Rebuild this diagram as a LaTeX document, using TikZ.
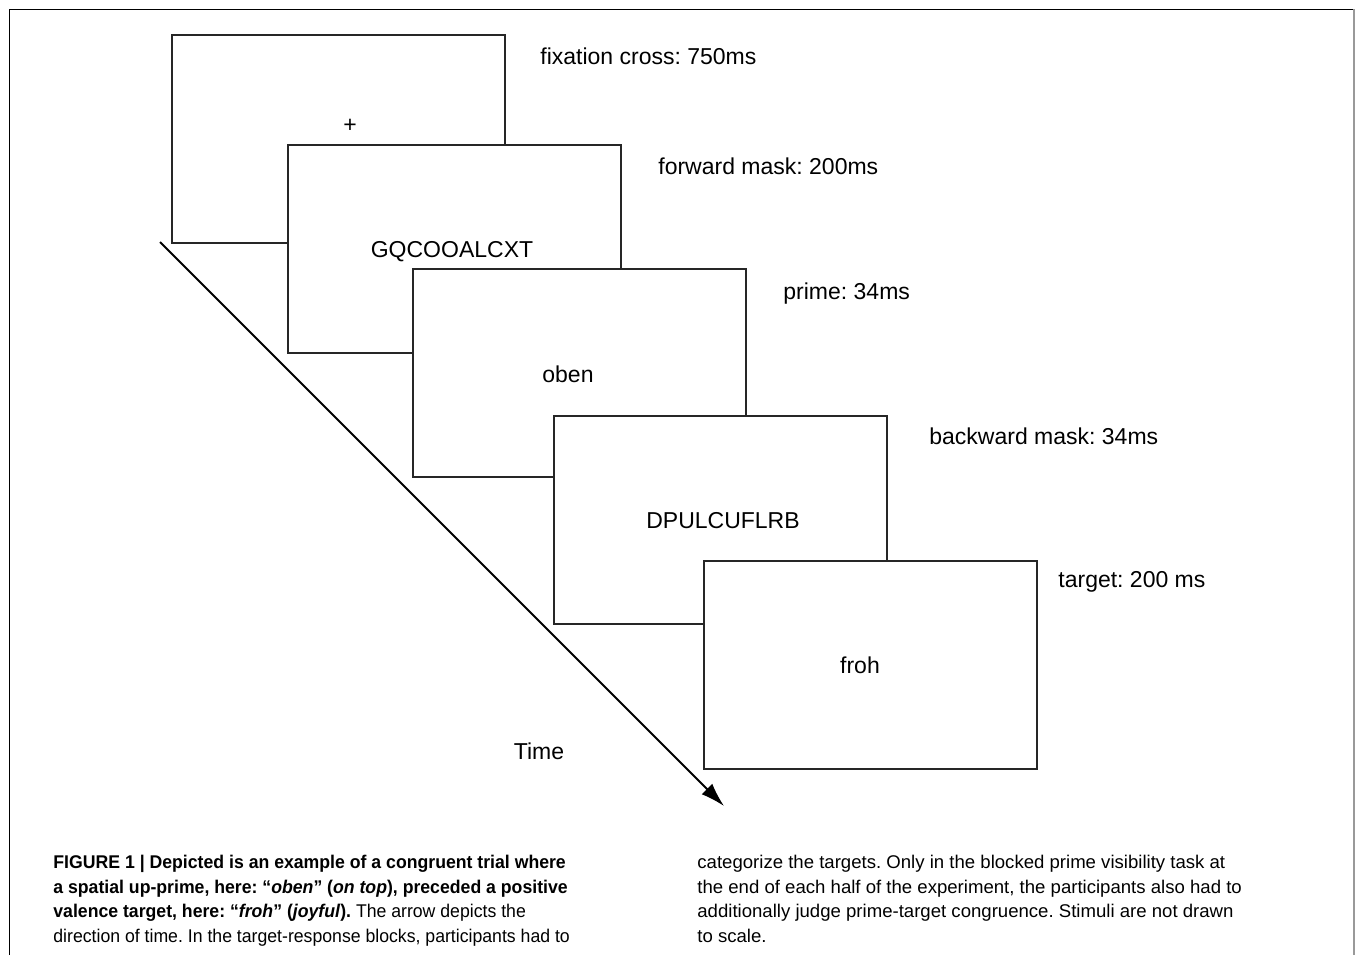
\documentclass[tikz,border=0pt]{standalone}
\usepackage{fontspec}
\setmainfont{Liberation Sans}
\newfontfamily\capfont[FakeStretch=0.96]{Liberation Sans}
\newfontfamily\capwide[FakeStretch=1.01]{Liberation Sans}
\usetikzlibrary{arrows.meta}
\frenchspacing

\begin{document}
\begin{tikzpicture}[x=0.5pt,y=-0.5pt,
  screen/.style={draw=black!85,line width=0.75pt,fill=white,anchor=north west,
    minimum width=166.5pt,minimum height=104pt,inner sep=0pt,outer sep=0pt},
  stim/.style={anchor=base,inner sep=0pt,font=\fontsize{11.5}{13}\selectfont},
  dur/.style={anchor=base west,inner sep=0pt,font=\fontsize{11.5}{13}\selectfont},
  captext/.style={anchor=base west,inner sep=0pt,align=left,
    font=\capfont\fontsize{9.2}{12.2}\selectfont},
  timearrow/.style={line width=0.9pt,-{Latex[length=12pt,width=7.5pt]}}]
  \useasboundingbox (0,0) rectangle (1355,955);
  \draw[line width=0.5pt] (9,955) -- (9,9) -- (1354,9);
  \draw[line width=0.6pt,black!40] (1354,9) -- (1354,955);

  \node (f1) at (172,35) [screen] {};
  \node (plus) at (350,132) [stim] {+};
  \node (f2) at (288,145) [screen] {};
  \node (fwd) at (452,257) [stim] {GQCOOALCXT};
  \node (f3) at (413,269) [screen] {};
  \node (prime) at (568,382) [stim] {oben};
  \node (f4) at (554,416) [screen] {};
  \node (bwd) at (723,528) [stim] {DPULCUFLRB};
  \node (f5) at (704,561) [screen] {};
  \node (target) at (860,673) [stim] {froh};

  \node (d1) at (540,64) [dur] {fixation cross: 750ms};
  \node (d2) at (658,174) [dur] {forward mask: 200ms};
  \node (d3) at (783,299) [dur] {prime: 34ms};
  \node (d4) at (929,444) [dur] {backward mask: 34ms};
  \node (d5) at (1058,587) [dur] {target: 200 ms};

  \coordinate (tstart) at (160,242);
  \coordinate (tend) at (724,806);
  \draw[timearrow] (tstart) -- (tend);
  \node (time) at (539,759) [stim] {Time};

  \node (capl) at (53,942) [captext] {\textbf{FIGURE 1 | Depicted is an example of a congruent trial where}\\
    \textbf{a spatial up-prime, here: “\textit{oben}” (\textit{on top}), preceded a positive}\\
    \textbf{valence target, here: “\textit{froh}” (\textit{joyful}).} The arrow depicts the\\
    direction of time. In the target-response blocks, participants had to};
  \node (capr) at (697,942) [captext,font=\capwide\fontsize{9.2}{12.2}\selectfont] {categorize the targets. Only in the blocked prime visibility task at\\
    the end of each half of the experiment, the participants also had to\\
    additionally judge prime-target congruence. Stimuli are not drawn\\
    to scale.};
\end{tikzpicture}
\end{document}
